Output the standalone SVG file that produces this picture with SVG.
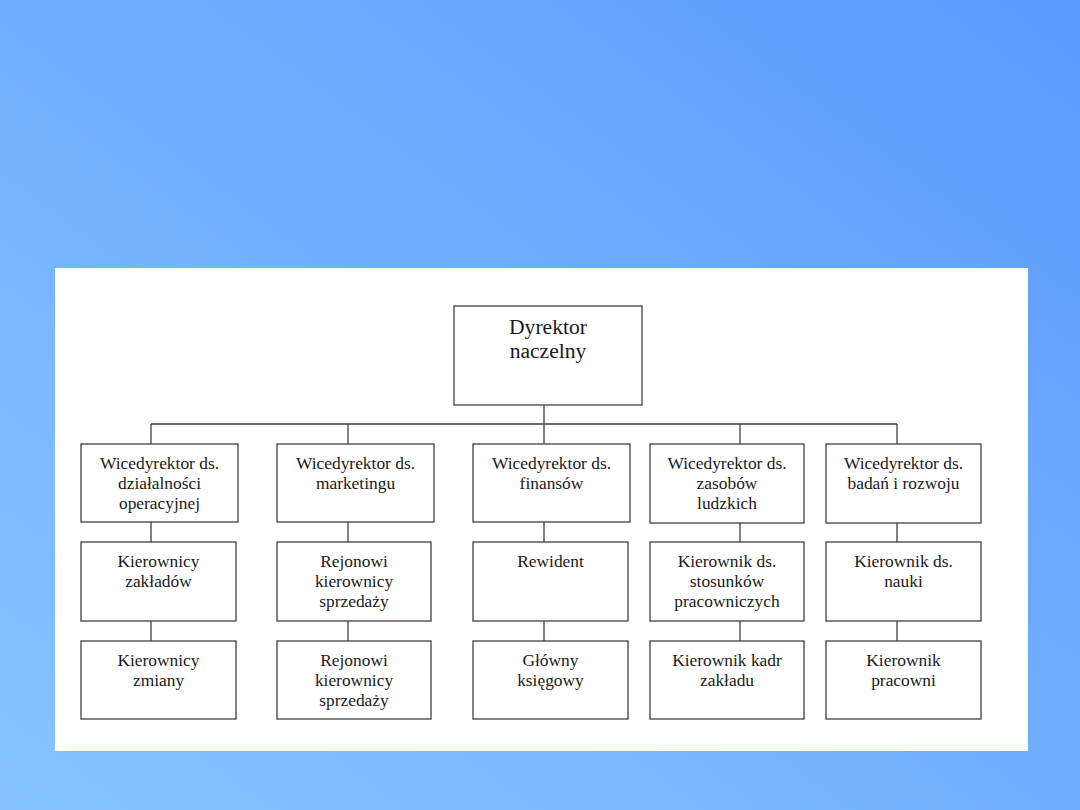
<svg xmlns="http://www.w3.org/2000/svg" width="1080" height="810" viewBox="0 0 1080 810">
<defs>
<linearGradient id="bg" x1="0" y1="1" x2="1" y2="0">
<stop offset="0" stop-color="#87c4ff"/>
<stop offset="1" stop-color="#5a9bff"/>
</linearGradient>
</defs>
<style>
.box{fill:#fff;stroke:#404040;stroke-width:1.3}
.t{font-family:"Liberation Serif","Times New Roman",serif;font-size:17.4px;fill:#1a1a1a;text-anchor:middle}
.big{font-size:21.6px}
.c{stroke:#404040;stroke-width:1.3;fill:none}
</style>
<rect width="1080" height="810" fill="url(#bg)"/>
<rect x="55" y="268" width="973" height="483" fill="#fff"/>
<g id="connectors">
<path class="c" d="M544 405V424M151 424H897M151 424V444M348 424V444M544 424V444M740 424V444M897 424V444"/>
<path class="c" d="M151 522V542M151 621V641M348 522V542M348 621V641M544 522V542M544 621V641M740 523V542M740 621V641M897 523V542M897 621V641"/>
</g>
<g id="dyrektor"><rect class="box" x="454" y="306" width="188" height="99"/><text class="t big" x="548" y="334">Dyrektor</text><text class="t big" x="548" y="358">naczelny</text></g>
<g id="wd1"><rect class="box" x="81" y="444" width="157" height="78"/><text class="t" x="159.5" y="469">Wicedyrektor ds.</text><text class="t" x="159.5" y="489">działalności</text><text class="t" x="159.5" y="509">operacyjnej</text></g>
<g id="wd2"><rect class="box" x="277" y="444" width="157" height="78"/><text class="t" x="355.5" y="469">Wicedyrektor ds.</text><text class="t" x="355.5" y="489">marketingu</text></g>
<g id="wd3"><rect class="box" x="473" y="444" width="157" height="78"/><text class="t" x="551.5" y="469">Wicedyrektor ds.</text><text class="t" x="551.5" y="489">finansów</text></g>
<g id="wd4"><rect class="box" x="650" y="444" width="154" height="79"/><text class="t" x="727" y="469">Wicedyrektor ds.</text><text class="t" x="727" y="489">zasobów</text><text class="t" x="727" y="509">ludzkich</text></g>
<g id="wd5"><rect class="box" x="826" y="444" width="155" height="79"/><text class="t" x="903.5" y="469">Wicedyrektor ds.</text><text class="t" x="903.5" y="489">badań i rozwoju</text></g>
<g id="k1"><rect class="box" x="81" y="542" width="155" height="79"/><text class="t" x="158.5" y="567">Kierownicy</text><text class="t" x="158.5" y="587">zakładów</text></g>
<g id="k2"><rect class="box" x="277" y="542" width="154" height="79"/><text class="t" x="354" y="567">Rejonowi</text><text class="t" x="354" y="587">kierownicy</text><text class="t" x="354" y="607">sprzedaży</text></g>
<g id="k3"><rect class="box" x="473" y="542" width="155" height="79"/><text class="t" x="550.5" y="567">Rewident</text></g>
<g id="k4"><rect class="box" x="650" y="542" width="154" height="79"/><text class="t" x="727" y="567">Kierownik ds.</text><text class="t" x="727" y="587">stosunków</text><text class="t" x="727" y="607">pracowniczych</text></g>
<g id="k5"><rect class="box" x="826" y="542" width="155" height="79"/><text class="t" x="903.5" y="567">Kierownik ds.</text><text class="t" x="903.5" y="587">nauki</text></g>
<g id="m1"><rect class="box" x="81" y="641" width="155" height="78"/><text class="t" x="158.5" y="666">Kierownicy</text><text class="t" x="158.5" y="686">zmiany</text></g>
<g id="m2"><rect class="box" x="277" y="641" width="154" height="78"/><text class="t" x="354" y="666">Rejonowi</text><text class="t" x="354" y="686">kierownicy</text><text class="t" x="354" y="706">sprzedaży</text></g>
<g id="m3"><rect class="box" x="473" y="641" width="155" height="78"/><text class="t" x="550.5" y="666">Główny</text><text class="t" x="550.5" y="686">księgowy</text></g>
<g id="m4"><rect class="box" x="650" y="641" width="154" height="78"/><text class="t" x="727" y="666">Kierownik kadr</text><text class="t" x="727" y="686">zakładu</text></g>
<g id="m5"><rect class="box" x="826" y="641" width="155" height="78"/><text class="t" x="903.5" y="666">Kierownik</text><text class="t" x="903.5" y="686">pracowni</text></g>
</svg>
